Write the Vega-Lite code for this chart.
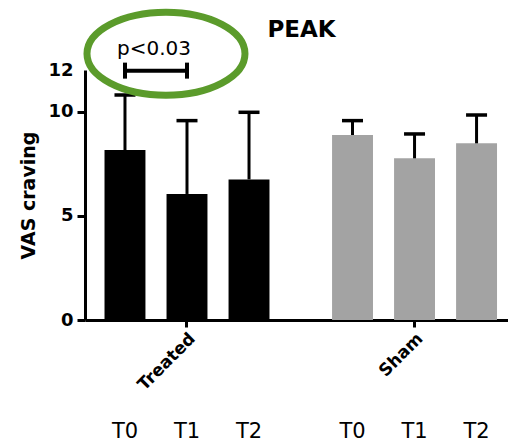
{
  "$schema": "https://vega.github.io/schema/vega-lite/v6.json",
  "width": 423,
  "height": 250,
  "autosize": {"type": "none"},
  "padding": {"left": 85, "top": 70, "right": 0, "bottom": 126},
  "background": "white",
  "config": {"view": {"stroke": null}, "font": "DejaVu Sans"},
  "title": {"text": "PEAK", "fontSize": 23, "fontWeight": "bold", "font": "DejaVu Sans", "frame": "group", "anchor": "middle", "dx": 5, "offset": -62, "baseline": "alphabetic", "color": "black"},
  "datasets": {
    "bars": [
      {"group": "Treated", "time": "T0", "mean": 8.16, "upper": 10.8},
      {"group": "Treated", "time": "T1", "mean": 6.05, "upper": 9.57},
      {"group": "Treated", "time": "T2", "mean": 6.75, "upper": 9.97},
      {"group": "Sham", "time": "T0", "mean": 8.88, "upper": 9.57},
      {"group": "Sham", "time": "T1", "mean": 7.76, "upper": 8.93},
      {"group": "Sham", "time": "T2", "mean": 8.48, "upper": 9.84}
    ],
    "bracket": [
      {"group": "Treated", "time": "T0"},
      {"group": "Treated", "time": "T1"}
    ],
    "note": [{"group": "Treated", "label": "p<0.03"}]
  },
  "layer": [
    {
      "data": {"name": "bars"},
      "mark": {"type": "bar"},
      "encoding": {
        "x": {
          "field": "group", "type": "nominal",
          "scale": {"domain": ["Treated", "Sham"], "paddingInner": 0.275, "paddingOuter": 0.067, "align": 0.64},
          "axis": {"title": null, "labelAngle": -45, "labelFontSize": 17, "labelFontWeight": "bold", "labelColor": "black", "labelFont": "DejaVu Sans", "domainColor": "black", "domainWidth": 3, "tickColor": "black", "tickWidth": 3, "tickSize": 7, "labelPadding": 3}
        },
        "xOffset": {"field": "time", "type": "nominal", "scale": {"domain": ["T0", "T1", "T2"], "paddingInner": 0.34, "paddingOuter": 0}},
        "y": {
          "field": "mean", "type": "quantitative",
          "scale": {"domain": [0, 12], "nice": false},
          "axis": {"title": "VAS craving", "values": [0, 5, 10, 12], "grid": false, "domainColor": "black", "domainWidth": 3,
            "tickColor": {"condition": {"test": "datum.value == 12", "value": "transparent"}, "value": "black"},
            "tickWidth": 3, "tickSize": 8, "labelFontSize": 18, "labelFontWeight": "bold", "labelColor": "black", "labelPadding": 4, "labelFont": "DejaVu Sans",
            "titleFontSize": 19, "titleFontWeight": "bold", "titleColor": "black", "titlePadding": 9, "titleFont": "DejaVu Sans"}
        },
        "color": {"field": "group", "type": "nominal", "scale": {"domain": ["Treated", "Sham"], "range": ["#000000", "#a3a3a3"]}, "legend": null}
      }
    },
    {
      "data": {"name": "bars"},
      "mark": {"type": "rule", "strokeWidth": 3, "color": "black"},
      "encoding": {
        "x": {"field": "group", "type": "nominal"},
        "xOffset": {"field": "time", "type": "nominal"},
        "y": {"field": "mean", "type": "quantitative"},
        "y2": {"field": "upper"}
      }
    },
    {
      "data": {"name": "bars"},
      "mark": {"type": "tick", "size": 21, "thickness": 3.5, "color": "black", "opacity": 1},
      "encoding": {
        "x": {"field": "group", "type": "nominal"},
        "xOffset": {"field": "time", "type": "nominal"},
        "y": {"field": "upper", "type": "quantitative"}
      }
    },
    {
      "data": {"name": "bracket"},
      "mark": {"type": "line", "strokeWidth": 4, "color": "black"},
      "encoding": {
        "x": {"field": "group", "type": "nominal"},
        "xOffset": {"field": "time", "type": "nominal"},
        "y": {"datum": 11.97}
      }
    },
    {
      "data": {"name": "bracket"},
      "mark": {"type": "tick", "orient": "vertical", "size": 16, "thickness": 4, "color": "black", "opacity": 1},
      "encoding": {
        "x": {"field": "group", "type": "nominal"},
        "xOffset": {"field": "time", "type": "nominal"},
        "y": {"datum": 11.97}
      }
    },
    {
      "data": {"name": "note"},
      "mark": {"type": "text", "fontSize": 20, "baseline": "alphabetic", "align": "center", "dx": -33, "color": "black", "font": "DejaVu Sans"},
      "encoding": {
        "x": {"field": "group", "type": "nominal"},
        "y": {"datum": 12.72},
        "text": {"field": "label"}
      }
    },
    {
      "data": {"name": "note"},
      "mark": {"type": "point", "shape": "M 0.734 0 C 0.734 0.29 0.286 0.525 -0.266 0.525 C -0.818 0.525 -1.266 0.29 -1.266 0 C -1.266 -0.29 -0.818 -0.525 -0.266 -0.525 C 0.286 -0.525 0.734 -0.29 0.734 0 Z", "size": 24964, "filled": false, "stroke": "#5b9b2b", "strokeWidth": 7, "opacity": 1},
      "encoding": {
        "x": {"field": "group", "type": "nominal"},
        "y": {"datum": 12.78}
      }
    },
    {
      "data": {"name": "bars"},
      "mark": {"type": "text", "fontSize": 21, "baseline": "middle", "align": "center", "dy": 112, "color": "black", "font": "DejaVu Sans"},
      "encoding": {
        "x": {"field": "group", "type": "nominal"},
        "xOffset": {"field": "time", "type": "nominal"},
        "y": {"datum": 0},
        "text": {"field": "time"}
      }
    }
  ]
}
